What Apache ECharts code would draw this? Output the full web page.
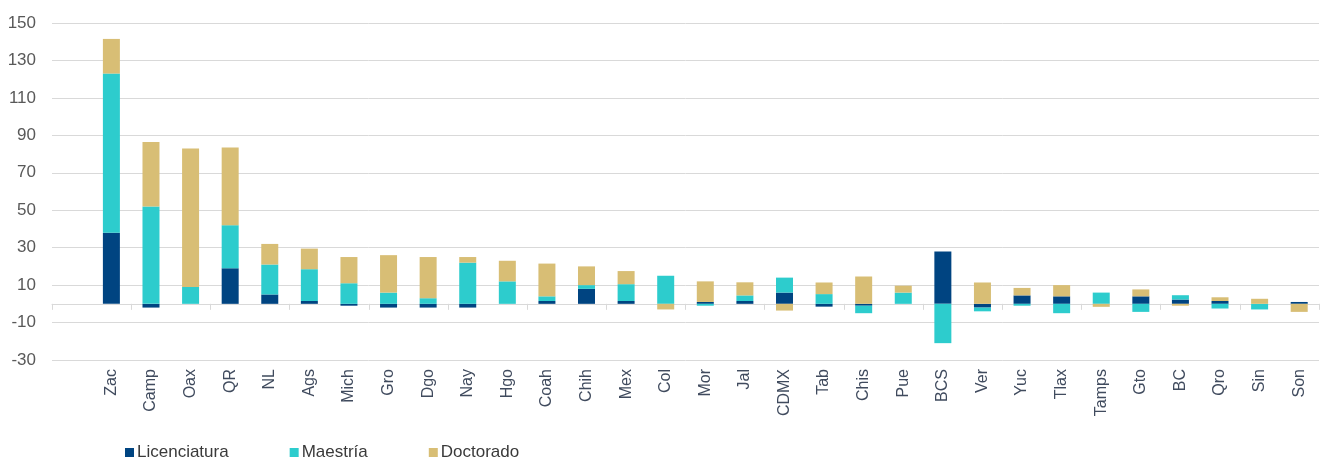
<!DOCTYPE html>
<html>
<head>
<meta charset="utf-8">
<script src="https://cdn.jsdelivr.net/npm/echarts@6/dist/echarts.min.js"></script>
<style>
  html, body { margin: 0; padding: 0; background: #fff; }
  #chart { width: 1325px; height: 458px; }
</style>
</head>
<body>
<div id="chart"></div>
<script>
// first slot is empty in the original
const states = ["", "Zac", "Camp", "Oax", "QR", "NL", "Ags", "Mich", "Gro", "Dgo", "Nay",
  "Hgo", "Coah", "Chih", "Mex", "Col", "Mor", "Jal", "CDMX", "Tab", "Chis",
  "Pue", "BCS", "Ver", "Yuc", "Tlax", "Tamps", "Gto", "BC", "Qro", "Sin", "Son"];

const licenciatura = [null, 38, -2, 0, 19, 5, 1.5, -1, -2, -2, -2,
  0, 1.5, 8, 1.5, 0, 1, 1.5, 6, -1.5, -1,
  0, 28, -2, 4.5, 4, 0, 4, 2.3, 1.5, 0, 1];

const maestria = [null, 85, 52, 9, 23, 16, 17, 11, 6, 3, 22,
  12, 2.5, 2, 9, 15, -1, 3, 8, 5.2, -4,
  6, -21, -2, -1, -5, 6, -4.3, 2.3, -2.5, -3, 0];

const doctorado = [null, 18.5, 34.5, 74, 41.5, 11, 11, 14, 20, 22, 3,
  11, 17.5, 10, 7, -3, 11, 7, -3.6, 6.2, 14.6,
  3.7, 0, 11.4, 4, 6, -1.6, 3.7, -1, 2, 2.7, -4.3];

const yTicks = { min: -30, max: 150, interval: 20 };

const COLORS = {
  lic: "#004481",
  mae: "#2DCCCD",
  doc: "#D8BE75",
};

const FONT = "'Liberation Sans', Arial, sans-serif";

function barSeries(name, data, color) {
  return {
    name: name,
    type: "bar",
    stack: "total",
    barWidth: 17,
    data: data,
    itemStyle: { color: color },
  };
}

const chart = echarts.init(document.getElementById("chart"));
chart.setOption({
  animation: false,
  textStyle: { fontFamily: FONT },
  grid: { left: 52, right: 6, top: 23, bottom: 98, containLabel: false },
  legend: {
    left: 120,
    top: 439,
    itemWidth: 9,
    itemHeight: 9,
    itemGap: 61,
    icon: "rect",
    textStyle: { fontSize: 17, color: "#3a3a3a", fontFamily: FONT, padding: [0, 0, 0, -2] },
    data: ["Licenciatura", "Maestría", "Doctorado"],
  },
  xAxis: [
    {
      type: "category",
      data: states,
      axisLine: { onZero: true, lineStyle: { color: "#d9d9d9", width: 1 } },
      axisTick: { show: true, length: 6, lineStyle: { color: "#d9d9d9" } },
      axisLabel: { show: false },
    },
    {
      type: "category",
      data: states,
      position: "bottom",
      axisLine: { show: false, onZero: false },
      axisTick: { show: false },
      axisLabel: {
        rotate: 90,
        margin: 9,
        fontSize: 16,
        color: "#404b5e",
        fontFamily: FONT,
        interval: 0,
      },
    },
  ],
  yAxis: {
    type: "value",
    min: yTicks.min,
    max: yTicks.max,
    interval: yTicks.interval,
    axisLine: { show: false },
    axisTick: { show: false },
    splitLine: { lineStyle: { color: "#d9d9d9", width: 1 } },
    axisLabel: { fontSize: 17, color: "#595959", margin: 16, fontFamily: FONT },
  },
  series: [
    barSeries("Licenciatura", licenciatura, COLORS.lic),
    barSeries("Maestría", maestria, COLORS.mae),
    barSeries("Doctorado", doctorado, COLORS.doc),
  ],
});
</script>
</body>
</html>
